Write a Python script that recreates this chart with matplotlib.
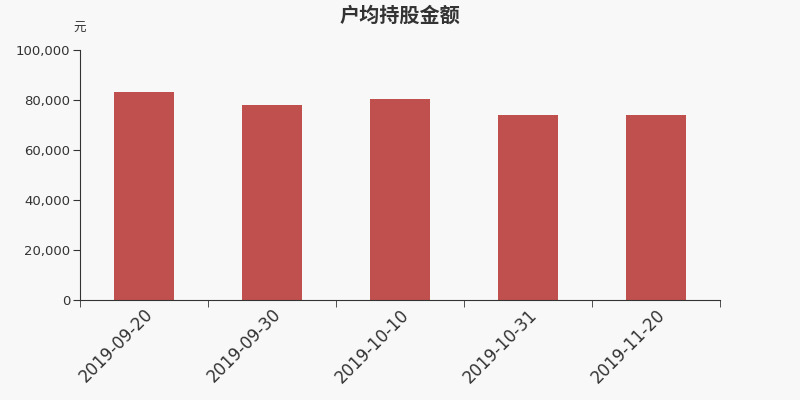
import matplotlib
matplotlib.use("Agg")
import matplotlib.pyplot as plt
from matplotlib.ticker import FuncFormatter
from matplotlib.transforms import ScaledTranslation

categories = ["2019-09-20", "2019-09-30", "2019-10-10", "2019-10-31", "2019-11-20"]
values = [83200, 78100, 80500, 74200, 74200]
yticks = [0, 20000, 40000, 60000, 80000, 100000]

plt.rcParams['font.family'] = ['Noto Sans CJK SC', 'DejaVu Sans']

bg = "#f8f8f8"
fig = plt.figure(figsize=(8, 4), dpi=100, facecolor=bg)
ax = fig.add_axes([0.1, 0.25, 0.8, 0.625], facecolor=bg)

x = list(range(len(categories)))
ax.bar(x, values, width=0.47, color="#c0504d", zorder=2)
ax.set_xlim(-0.5, len(categories) - 0.5)
ax.set_ylim(0, 100000)
ax.set_yticks(yticks)
ax.yaxis.set_major_formatter(FuncFormatter(lambda v, p: f"{int(v):,}"))
ax.set_xticks(x)
ax.set_xticklabels(categories, rotation=45, ha="right", rotation_mode="anchor",
                   fontsize=12, color="#333333", family=["DejaVu Sans"])
offset = ScaledTranslation(-5 / 100, 0, fig.dpi_scale_trans)
for lab in ax.get_xticklabels():
    lab.set_transform(lab.get_transform() + offset)
ax.set_xticks([i - 0.5 for i in range(len(categories) + 1)], minor=True)
ax.tick_params(axis="x", which="major", length=0, pad=4)
ax.tick_params(axis="x", which="minor", length=5, color="#333333")
ax.tick_params(axis="y", length=5, pad=2, color="#333333", labelsize=9.5, labelcolor="#333333")
for lab in ax.get_yticklabels():
    lab.set_family(["DejaVu Sans"])
for s in ["top", "right"]:
    ax.spines[s].set_visible(False)
ax.spines["left"].set_color("#333333")
ax.spines["bottom"].set_color("#333333")

fig.text(0.5, 0.963, "户均持股金额", ha="center", va="center", fontsize=14.5,
         fontweight="bold", color="#333333")
fig.text(0.1, 0.928, "元", ha="center", va="center", fontsize=9, color="#333333")

fig.savefig("out.png", dpi=100, facecolor=bg)
